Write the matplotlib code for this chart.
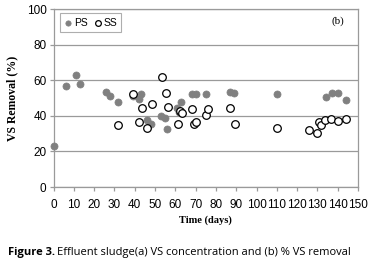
import matplotlib
matplotlib.use("Agg")
import matplotlib.pyplot as plt

# PS (primary sludge) - filled grey
ps_day = [0, 6, 11, 13, 26, 28, 32, 39, 42, 43, 46, 48, 53, 55, 56, 61, 62, 63, 68, 70, 75, 87, 89, 110, 134, 137, 140, 144]
ps_val = [23, 57, 63, 58, 53.5, 51, 47.5, 51, 49.5, 52, 37.5, 35.5, 40, 39, 32.5, 44.6, 42.3, 47.6, 52, 52, 52, 53.2, 53, 52.2, 50.6, 52.8, 52.8, 48.7]

# SS (secondary sludge) - open circles
ss_day = [32, 39, 42, 43.5, 46, 48.3, 53.3, 55.2, 56.3, 61.3, 62.4, 63.2, 68.2, 69, 70.1, 75.2, 76, 87, 89.2, 110, 126, 130, 131, 132, 133.7, 136.8, 140, 144.2]
ss_val = [34.8, 52, 36.7, 44.2, 33.1, 46.6, 62, 52.6, 45, 35.4, 42.6, 41.7, 43.6, 35.4, 36.7, 40.4, 43.8, 44.6, 35.2, 33, 31.8, 30.3, 36.3, 34.7, 37.6, 38.2, 37.2, 38]

xticks = list(range(0, 151, 10))
yticks = list(range(0, 101, 20))

fig = plt.figure(figsize=(3.68, 2.68), dpi=100)
ax = fig.add_axes([53.5/368, 1 - 187/268, (358 - 53.5)/368, (187 - 9)/268])

grey = "#808080"
ax.scatter(ps_day, ps_val, s=26, color=grey, edgecolor=grey, linewidths=0.5, label="PS", zorder=3, clip_on=False)
ax.scatter(ss_day, ss_val, s=30, facecolor="white", edgecolor="black", linewidths=0.9, label="SS", zorder=4)

ax.set_xlim(0, 150)
ax.set_ylim(0, 100)
ax.set_xticks(xticks)
ax.set_yticks(yticks)
ax.grid(axis="y", color="#9a9a9a", linewidth=0.9)
ax.set_axisbelow(True)
for s in ax.spines.values():
    s.set_color("#9a9a9a")
    s.set_linewidth(0.9)
ax.tick_params(colors="#9a9a9a", length=3, width=0.9, labelcolor="black", labelsize=8.5, pad=2)
ax.tick_params(axis="x", pad=6)
for lab in ax.get_xticklabels() + ax.get_yticklabels():
    lab.set_family("Liberation Sans")

ax.set_xlabel("Time (days)", family="Liberation Serif", fontweight="bold", fontsize=7.5, labelpad=3)
ax.set_ylabel("VS Removal (%)", family="Liberation Serif", fontweight="bold", fontsize=8.5, labelpad=6)
ax.text(0.955, 0.93, "(b)", transform=ax.transAxes, family="Liberation Serif", fontsize=8, ha="right", va="center")

leg = ax.legend(loc="upper left", ncol=2, frameon=True, fancybox=False, handletextpad=0.05,
                columnspacing=0.6, borderpad=0.4, handlelength=0.9, markerscale=0.75,
                borderaxespad=0, prop={"family": "Liberation Sans", "size": 7.5},
                bbox_to_anchor=(0.02, 0.975))
leg.get_frame().set_edgecolor("#9a9a9a")
leg.get_frame().set_linewidth(0.8)

fig.text(8/368, 1 - 252/268, "Figure 3.", family="Open Sans", fontweight="bold", fontsize=8, va="center")
fig.text(57/368, 1 - 252/268, "Effluent sludge(a) VS concentration and (b) % VS removal",
         family="Open Sans", fontsize=8, va="center")

fig.savefig("out.png", dpi=100)
